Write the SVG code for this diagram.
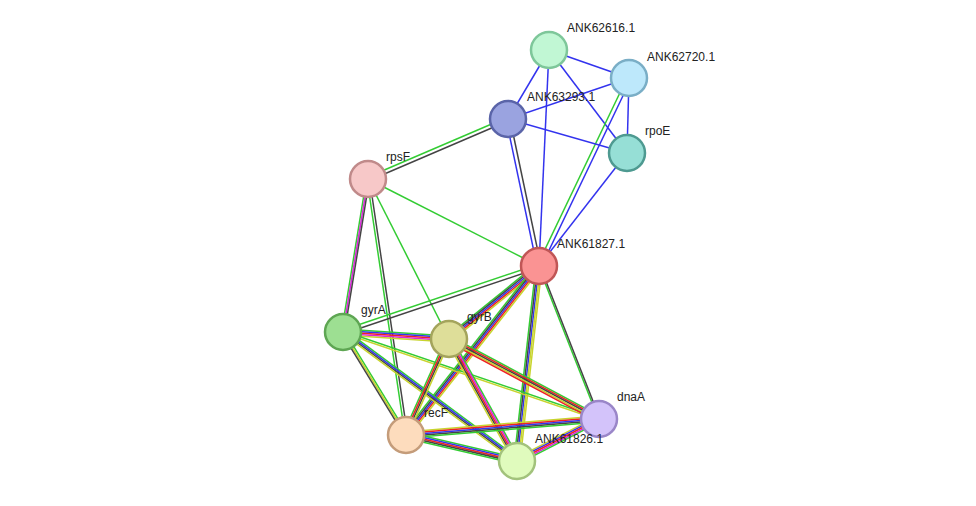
<svg xmlns="http://www.w3.org/2000/svg" width="976" height="506" viewBox="0 0 976 506">
<style>
line{stroke-width:1.5;fill:none}
.g{stroke:#33cc33}.b{stroke:#3333ee}.k{stroke:#444}.r{stroke:#ee2222}.m{stroke:#dd22dd}.y{stroke:#c8d42e}
circle{stroke-width:2.5}
text{font-family:"Liberation Sans",Arial,sans-serif;font-size:12px;fill:#222}
</style>
<rect width="976" height="506" fill="#fff"/>
<g id="connectors">
<line class="b" x1="549" y1="50" x2="629" y2="78"/>
<line class="b" x1="549" y1="50" x2="508" y2="119"/>
<line class="b" x1="549" y1="50" x2="627" y2="153"/>
<line class="b" x1="549" y1="50" x2="539" y2="266"/>
<line class="b" x1="629" y1="78" x2="508" y2="119"/>
<line class="b" x1="629" y1="78" x2="627" y2="153"/>
<line class="g" x1="627" y1="78" x2="537" y2="266"/>
<line class="b" x1="631" y1="79" x2="541" y2="267"/>
<line class="b" x1="508" y1="119" x2="627" y2="153"/>
<line class="b" x1="506" y1="119" x2="537" y2="266"/>
<line class="k" x1="510" y1="119" x2="541" y2="266"/>
<line class="g" x1="508" y1="117" x2="368" y2="177"/>
<line class="k" x1="508" y1="121" x2="368" y2="181"/>
<line class="b" x1="627" y1="153" x2="539" y2="266"/>
<line class="g" x1="368" y1="179" x2="539" y2="266"/>
<line class="g" x1="366.5" y1="179" x2="341.5" y2="332"/>
<line class="m" x1="368" y1="179" x2="343" y2="332"/>
<line class="k" x1="369.5" y1="179" x2="344.5" y2="332"/>
<line class="g" x1="367" y1="179" x2="405" y2="435"/>
<line class="k" x1="369.5" y1="179" x2="407.5" y2="435"/>
<line class="g" x1="368" y1="179" x2="449" y2="339"/>
<line class="g" x1="539" y1="264" x2="343" y2="330"/>
<line class="k" x1="539" y1="268" x2="343" y2="334"/>
<line class="g" x1="538" y1="265" x2="598" y2="418"/>
<line class="k" x1="540" y1="266" x2="600" y2="419"/>
<g>
<line class="g" x1="537.1" y1="263.7" x2="447.1" y2="336.7"/>
<line class="k" x1="538" y1="264.8" x2="448" y2="337.8"/>
<line class="b" x1="539" y1="266" x2="449" y2="339"/>
<line class="r" x1="540" y1="267.2" x2="450" y2="340.2"/>
<line class="y" x1="540.9" y1="268.3" x2="450.9" y2="341.3"/>
</g>
<g>
<line class="g" x1="536.6" y1="264.2" x2="403.6" y2="433.2"/>
<line class="k" x1="537.8" y1="265.1" x2="404.8" y2="434.1"/>
<line class="b" x1="539" y1="266" x2="406" y2="435"/>
<line class="r" x1="540.2" y1="266.9" x2="407.2" y2="435.9"/>
<line class="y" x1="541.4" y1="267.8" x2="408.4" y2="436.8"/>
</g>
<g>
<line class="g" x1="536" y1="265.6" x2="514" y2="460.6"/>
<line class="k" x1="537.5" y1="265.8" x2="515.5" y2="460.8"/>
<line class="b" x1="539" y1="266" x2="517" y2="461"/>
<line class="y" x1="540.5" y1="266.2" x2="518.5" y2="461.2"/>
<line class="y" x1="542" y1="266.4" x2="520" y2="461.4"/>
</g>
<g>
<line class="g" x1="343" y1="329" x2="449" y2="336"/>
<line class="b" x1="343" y1="330.5" x2="449" y2="337.5"/>
<line class="r" x1="343" y1="332" x2="449" y2="339"/>
<line class="m" x1="343" y1="333.5" x2="449" y2="340.5"/>
<line class="y" x1="343" y1="335" x2="449" y2="342"/>
</g>
<g>
<line class="g" x1="344.3" y1="331.2" x2="407.3" y2="434.2"/>
<line class="y" x1="343" y1="332" x2="406" y2="435"/>
<line class="k" x1="341.7" y1="332.8" x2="404.7" y2="435.8"/>
</g>
<g>
<line class="g" x1="344.8" y1="329.6" x2="518.8" y2="458.6"/>
<line class="b" x1="343.9" y1="330.8" x2="517.9" y2="459.8"/>
<line class="k" x1="343" y1="332" x2="517" y2="461"/>
<line class="y" x1="342.1" y1="333.2" x2="516.1" y2="462.2"/>
</g>
<line class="g" x1="343" y1="331" x2="599" y2="418"/>
<line class="y" x1="343" y1="333" x2="599" y2="420"/>
<g>
<line class="g" x1="446.2" y1="337.8" x2="403.2" y2="433.8"/>
<line class="r" x1="447.6" y1="338.4" x2="404.6" y2="434.4"/>
<line class="k" x1="449" y1="339" x2="406" y2="435"/>
<line class="y" x1="450.4" y1="339.6" x2="407.4" y2="435.6"/>
</g>
<g>
<line class="g" x1="451.6" y1="337.6" x2="519.6" y2="459.6"/>
<line class="m" x1="450.3" y1="338.3" x2="518.3" y2="460.3"/>
<line class="r" x1="449" y1="339" x2="517" y2="461"/>
<line class="k" x1="447.7" y1="339.7" x2="515.7" y2="461.7"/>
<line class="y" x1="446.4" y1="340.4" x2="514.4" y2="462.4"/>
</g>
<g>
<line class="g" x1="450.4" y1="336.4" x2="600.4" y2="416.4"/>
<line class="r" x1="449.7" y1="337.7" x2="599.7" y2="417.7"/>
<line class="k" x1="449" y1="339" x2="599" y2="419"/>
<line class="y" x1="448.3" y1="340.3" x2="598.3" y2="420.3"/>
<line class="r" x1="447.6" y1="341.6" x2="597.6" y2="421.6"/>
</g>
<g>
<line class="g" x1="406.7" y1="432.1" x2="517.7" y2="458.1"/>
<line class="b" x1="406.35" y1="433.55" x2="517.35" y2="459.55"/>
<line class="r" x1="406" y1="435" x2="517" y2="461"/>
<line class="k" x1="405.65" y1="436.45" x2="516.65" y2="462.45"/>
<line class="g" x1="405.3" y1="437.9" x2="516.3" y2="463.9"/>
</g>
<g>
<line class="y" x1="405.8" y1="432" x2="598.8" y2="416"/>
<line class="r" x1="405.9" y1="433.5" x2="598.9" y2="417.5"/>
<line class="b" x1="406" y1="435" x2="599" y2="419"/>
<line class="k" x1="406.1" y1="436.5" x2="599.1" y2="420.5"/>
<line class="g" x1="406.2" y1="438" x2="599.2" y2="422"/>
</g>
<g>
<line class="y" x1="515.6" y1="458.4" x2="597.6" y2="416.4"/>
<line class="b" x1="516.3" y1="459.7" x2="598.3" y2="417.7"/>
<line class="r" x1="517" y1="461" x2="599" y2="419"/>
<line class="m" x1="517.7" y1="462.3" x2="599.7" y2="420.3"/>
<line class="g" x1="518.4" y1="463.6" x2="600.4" y2="421.6"/>
</g>
</g>
<g id="ANK62616.1"><circle cx="549" cy="50" r="18" fill="#c1f7d4" stroke="#7ec79a"/><text x="567" y="32">ANK62616.1</text></g>
<g id="ANK62720.1"><circle cx="629" cy="78" r="18" fill="#bde8fb" stroke="#7aaec6"/><text x="647" y="61">ANK62720.1</text></g>
<g id="ANK63293.1"><circle cx="508" cy="119" r="18" fill="#9aa3e0" stroke="#5a64a8"/><text x="527" y="101">ANK63293.1</text></g>
<g id="rpoE"><circle cx="627" cy="153" r="18" fill="#96dfd6" stroke="#4e9a91"/><text x="645" y="135">rpoE</text></g>
<g id="rpsF"><circle cx="368" cy="179" r="18" fill="#f7c8c8" stroke="#c08a8a"/><text x="386" y="161">rpsF</text></g>
<g id="ANK61827.1"><circle cx="539" cy="266" r="18" fill="#fa9393" stroke="#c05656"/><text x="557" y="248">ANK61827.1</text></g>
<g id="gyrA"><circle cx="343" cy="332" r="18" fill="#9ddf92" stroke="#5ea653"/><text x="361" y="314">gyrA</text></g>
<g id="gyrB"><circle cx="449" cy="339" r="18" fill="#dede99" stroke="#a4a45c"/><text x="467" y="321">gyrB</text></g>
<g id="dnaA"><circle cx="599" cy="419" r="18" fill="#d3c3fa" stroke="#9a86c8"/><text x="617" y="401">dnaA</text></g>
<g id="recF"><circle cx="406" cy="435" r="18" fill="#fddcbd" stroke="#c49c7a"/><text x="424" y="417">recF</text></g>
<g id="ANK61826.1"><circle cx="517" cy="461" r="18" fill="#e0fbbd" stroke="#a2c27c"/><text x="535" y="443">ANK61826.1</text></g>
</svg>
